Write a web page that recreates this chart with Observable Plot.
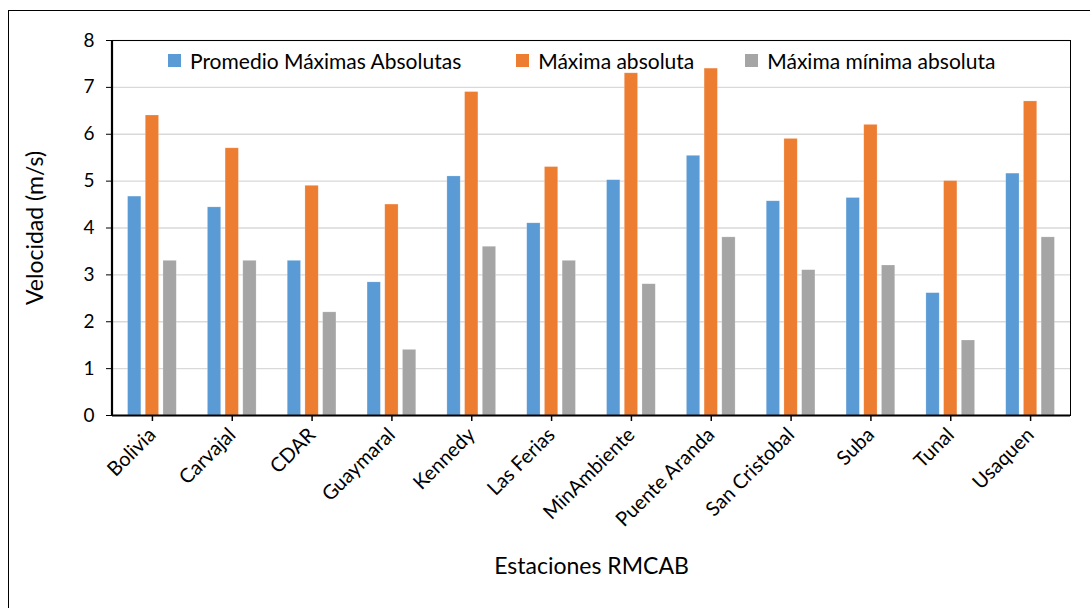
<!DOCTYPE html>
<html>
<head>
<meta charset="utf-8">
<script src="https://cdn.jsdelivr.net/npm/d3@7"></script>
<script src="https://cdn.jsdelivr.net/npm/@observablehq/plot@0.6"></script>
<style>
  html, body { margin: 0; padding: 0; background: #fff; overflow: hidden; }
  #wrap { position: relative; width: 1090px; height: 608px; font-family: Lato, "Open Sans", sans-serif; }
  #outer { position: absolute; left: 8px; top: 10px; width: 1200px; height: 700px; border: 1.5px solid #000; box-sizing: border-box; }
  #legend { position: absolute; top: 48px; left: 168px; display: flex; align-items: center; font-size: 21px; color: #000; white-space: nowrap; }
  #legend .item { display: flex; align-items: center; }
  #legend .sw { width: 13px; height: 13px; margin-right: 9px; }
  #chart { position: absolute; left: 0; top: 0; }
</style>
</head>
<body>
<div id="wrap">
  <div id="outer"></div>
  <div id="chart"></div>
  <div id="legend"></div>
</div>
<script>
const stations = ["Bolivia", "Carvajal", "CDAR", "Guaymaral", "Kennedy", "Las Ferias", "MinAmbiente", "Puente Aranda", "San Cristobal", "Suba", "Tunal", "Usaquen"];
const seriesNames = ["Promedio Máximas Absolutas", "Máxima absoluta", "Máxima mínima absoluta"];
const seriesColors = ["#5b9bd5", "#ed7d31", "#a5a5a5"];
const promedioMaximas = [4.67, 4.44, 3.30, 2.84, 5.10, 4.10, 5.02, 5.54, 4.57, 4.64, 2.61, 5.16];
const maximaAbsoluta = [6.4, 5.7, 4.9, 4.5, 6.9, 5.3, 7.3, 7.4, 5.9, 6.2, 5.0, 6.7];
const maximaMinima = [3.3, 3.3, 2.2, 1.4, 3.6, 3.3, 2.8, 3.8, 3.1, 3.2, 1.6, 3.8];
const yTicks = [0, 1, 2, 3, 4, 5, 6, 7, 8];
const yTitle = "Velocidad (m/s)";
const xTitle = "Estaciones RMCAB";

const seriesValues = [promedioMaximas, maximaAbsoluta, maximaMinima];
const data = seriesValues.map((vals, s) => stations.map((st, i) => ({station: st, series: seriesNames[s], value: vals[i]})));

const barW = 13.3, step = 17.7;
const bandW = (1070 - 112) / stations.length;
const inset = (bandW - barW) / 2;

function leftAxisLine(index, scales, values, dimensions) {
  const {marginLeft, marginTop, height, marginBottom} = dimensions;
  const line = document.createElementNS("http://www.w3.org/2000/svg", "line");
  line.setAttribute("x1", marginLeft);
  line.setAttribute("x2", marginLeft);
  line.setAttribute("y1", marginTop);
  line.setAttribute("y2", height - marginBottom + 1);
  line.setAttribute("stroke", "#000");
  line.setAttribute("stroke-width", 2.2);
  return line;
}

const marks = [
  Plot.gridY(yTicks, {stroke: "#d9d9d9", strokeOpacity: 1, strokeWidth: 1.3}),
  ...data.map((d, s) => Plot.barY(d, {
    x: "station", y: "value", fill: seriesColors[s],
    insetLeft: inset, insetRight: inset, dx: (s - 1) * step,
    stroke: "#ffffff", strokeOpacity: 0.35, strokeWidth: 0.6
  })),
  Plot.frame({stroke: "#000", strokeWidth: 1}),
  Plot.ruleY([0], {stroke: "#000", strokeWidth: 2.2}),
  leftAxisLine,
  Plot.axisY({ticks: yTicks, tickSize: 6, tickPadding: 12, fontSize: 19, label: null, tickFormat: d3.format("d"), stroke: "#000"}),
  Plot.axisX({tickSize: 6, tickRotate: -45, tickPadding: 10, fontSize: 20, label: null, stroke: "#000", strokeWidth: 1.5}),
  Plot.text([yTitle], {frameAnchor: "left", dx: -77, rotate: -90, textAnchor: "middle", fontSize: 23, text: d => d, fill: "#000"}),
  Plot.text([xTitle], {frameAnchor: "bottom", dy: 158, fontSize: 23, text: d => d, fill: "#000"})
];

const chart = Plot.plot({
  width: 1090,
  height: 608,
  marginLeft: 112,
  marginRight: 20,
  marginTop: 40,
  marginBottom: 193,
  style: {fontFamily: "Lato, 'Open Sans', sans-serif", color: "#000", background: "transparent", overflow: "visible"},
  x: {domain: stations, padding: 0, round: false, label: null},
  y: {domain: [0, 8], label: null},
  marks
});
document.getElementById("chart").appendChild(chart);

const legend = document.getElementById("legend");
const gaps = [0, 55, 51];
seriesNames.forEach((name, i) => {
  const item = document.createElement("div");
  item.className = "item";
  item.style.marginLeft = gaps[i] + "px";
  const sw = document.createElement("span");
  sw.className = "sw";
  sw.style.background = seriesColors[i];
  const t = document.createElement("span");
  t.textContent = name;
  item.appendChild(sw);
  item.appendChild(t);
  legend.appendChild(item);
});
</script>
</body>
</html>
